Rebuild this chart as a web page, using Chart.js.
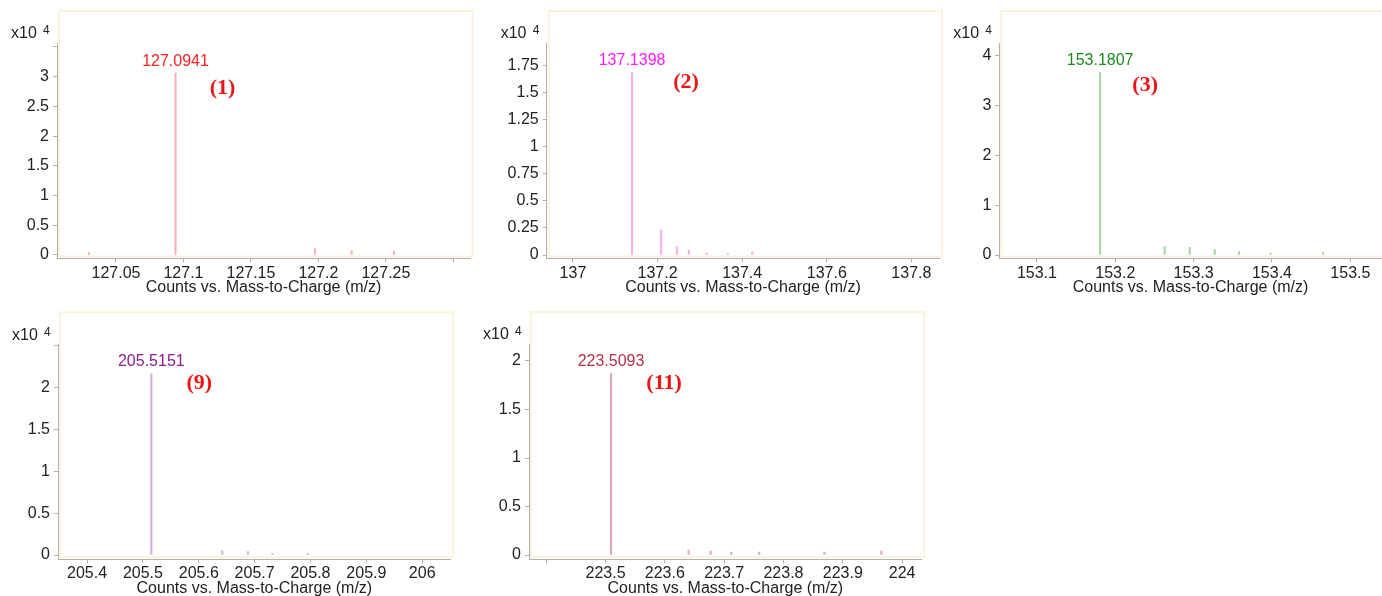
<!DOCTYPE html>
<html>
<head>
<meta charset="utf-8">
<script src="https://cdn.jsdelivr.net/npm/chart.js@4.4.1/dist/chart.umd.min.js"></script>
<style>
  html, body { margin: 0; padding: 0; width: 1382px; height: 596px; overflow: hidden; background: #fff; }
  canvas { position: absolute; }
</style>
</head>
<body>
<canvas id="p1" width="480" height="300" style="left:0px;top:0px"></canvas>
<canvas id="p2" width="465" height="300" style="left:480px;top:0px"></canvas>
<canvas id="p3" width="437" height="300" style="left:945px;top:0px"></canvas>
<canvas id="p4" width="470" height="310" style="left:0px;top:300px"></canvas>
<canvas id="p5" width="460" height="310" style="left:470px;top:300px"></canvas>
<script>
// Intensities are in units of 10^4 counts.

// Compound (1)
const mz1 = [127.0300, 127.0941, 127.1975, 127.2246, 127.2560];
const counts1 = [0.04, 3.06, 0.11, 0.07, 0.06];
const xTicks1 = [127.05, 127.1, 127.15, 127.2, 127.25, 127.3];
const xLabels1 = ['127.05', '127.1', '127.15', '127.2', '127.25', ''];
const yTicks1 = [0, 0.5, 1, 1.5, 2, 2.5, 3, 3.5];
const yLabels1 = ['0', '0.5', '1', '1.5', '2', '2.5', '3', ''];

// Compound (2)
const mz2 = [137.1398, 137.2085, 137.2460, 137.2740, 137.3160, 137.3660, 137.4240];
const counts2 = [1.685, 0.231, 0.077, 0.046, 0.02, 0.015, 0.03];
const xTicks2 = [137, 137.2, 137.4, 137.6, 137.8];
const xLabels2 = ['137', '137.2', '137.4', '137.6', '137.8'];
const yTicks2 = [0, 0.25, 0.5, 0.75, 1, 1.25, 1.5, 1.75];
const yLabels2 = ['0', '0.25', '0.5', '0.75', '1', '1.25', '1.5', '1.75'];

// Compound (3)
const mz3 = [153.1807, 153.2630, 153.2950, 153.3270, 153.3580, 153.3980, 153.4650];
const counts3 = [3.66, 0.167, 0.155, 0.11, 0.07, 0.04, 0.05];
const xTicks3 = [153.1, 153.2, 153.3, 153.4, 153.5];
const xLabels3 = ['153.1', '153.2', '153.3', '153.4', '153.5'];
const yTicks3 = [0, 1, 2, 3, 4];
const yLabels3 = ['0', '1', '2', '3', '4'];

// Compound (9)
const mz9 = [205.5151, 205.6420, 205.6880, 205.7320, 205.7950];
const counts9 = [2.168, 0.05, 0.04, 0.02, 0.02];
const xTicks9 = [205.4, 205.5, 205.6, 205.7, 205.8, 205.9, 206];
const xLabels9 = ['205.4', '205.5', '205.6', '205.7', '205.8', '205.9', '206'];
const yTicks9 = [0, 0.5, 1, 1.5, 2, 2.5];
const yLabels9 = ['0', '0.5', '1', '1.5', '2', ''];

// Compound (11)
const mz11 = [223.5093, 223.6400, 223.6770, 223.7120, 223.7590, 223.8690, 223.9650];
const counts11 = [1.873, 0.05, 0.04, 0.03, 0.03, 0.03, 0.04];
const xTicks11 = [223.4, 223.5, 223.6, 223.7, 223.8, 223.9, 224];
const xLabels11 = ['', '223.5', '223.6', '223.7', '223.8', '223.9', '224'];
const yTicks11 = [0, 0.5, 1, 1.5, 2];
const yLabels11 = ['0', '0.5', '1', '1.5', '2'];

const SANS = '"Liberation Sans", Arial, sans-serif';
const SERIF = '"Liberation Serif", "Times New Roman", serif';
const INK = '#222222';
const AXIS = '#b0b0b0';

const panels = [
  { id: 'p1', tag: '(1)', mz: mz1, counts: counts1, xTicks: xTicks1, xLabels: xLabels1, yTicks: yTicks1, yLabels: yLabels1,
    xMin: 127.0063, xMax: 127.3123, yMin: -0.059, yMax: 3.567,
    line: '#f7b2ba', label: '#ff2222', tagDx: 47, tagDy: 15,
    padTop: 43, padRight: 10, yW: 57, xH: 41.5, titlePad: 2.4 },
  { id: 'p2', tag: '(2)', mz: mz2, counts: counts2, xTicks: xTicks2, xLabels: xLabels2, yTicks: yTicks2, yLabels: yLabels2,
    xMin: 136.938, xMax: 137.866, yMin: -0.032, yMax: 1.959,
    line: '#f6b0ee', label: '#ff1cff', tagDx: 54, tagDy: 10,
    padTop: 43, padRight: 5.7, yW: 66.7, xH: 41.5, titlePad: 2.4 },
  { id: 'p3', tag: '(3)', mz: mz3, counts: counts3, xTicks: xTicks3, xLabels: xLabels3, yTicks: yTicks3, yLabels: yLabels3,
    xMin: 153.052, xMax: 153.540, yMin: -0.070, yMax: 4.255,
    line: '#a9d8a6', label: '#1c8c1c', tagDx: 45, tagDy: 13,
    padTop: 43, padRight: 0.3, yW: 54.3, xH: 41.5, titlePad: 2.4 },
  { id: 'p4', tag: '(9)', mz: mz9, counts: counts9, xTicks: xTicks9, xLabels: xLabels9, yTicks: yTicks9, yLabels: yLabels9,
    xMin: 205.348, xMax: 206.051, yMin: -0.051, yMax: 2.52,
    line: '#d6b0e0', label: '#8e1c8e', tagDx: 48, tagDy: 10,
    padTop: 44.3, padRight: 19.3, yW: 58, xH: 50.7, titlePad: 12.1 },
  { id: 'p5', tag: '(11)', mz: mz11, counts: counts11, xTicks: xTicks11, xLabels: xLabels11, yTicks: yTicks11, yLabels: yLabels11,
    xMin: 223.371, xMax: 224.033, yMin: -0.044, yMax: 2.175,
    line: '#e2a9b6', label: '#b2304c', tagDx: 53, tagDy: 10,
    padTop: 44, padRight: 8.3, yW: 59, xH: 50.7, titlePad: 12.1 }
];

// Frame around the plot, exponent label, base-peak m/z and compound tag.
const decor = {
  id: 'decor',
  beforeDraw(chart, args, o) {
    const { ctx, chartArea: a } = chart;
    ctx.save();
    ctx.strokeStyle = '#fcf2da';
    ctx.lineWidth = 2;
    ctx.strokeRect(a.left + 2, a.top - 32, a.right - a.left + 0.5, a.bottom - a.top + 30);
    ctx.restore();
  },
  afterDraw(chart, args, o) {
    const { ctx, chartArea: a } = chart;
    const xs = chart.scales.x, ys = chart.scales.y;
    ctx.save();
    ctx.fillStyle = INK;
    ctx.textAlign = 'left';
    ctx.textBaseline = 'middle';
    ctx.font = '16px ' + SANS;
    ctx.fillText('x10', a.left - 46, a.top - 9);
    ctx.font = '12px ' + SANS;
    ctx.fillText('4', a.left - 14, a.top - 12);

    const i = o.counts.indexOf(Math.max(...o.counts));
    const px = xs.getPixelForValue(o.mz[i]);
    const py = ys.getPixelForValue(o.counts[i]);
    ctx.textAlign = 'center';
    ctx.fillStyle = o.label;
    ctx.font = '16px ' + SANS;
    ctx.fillText(o.mz[i].toFixed(4), px, py - 12);

    ctx.fillStyle = '#ee1414';
    ctx.font = 'bold 22px ' + SERIF;
    ctx.fillText(o.tag, px + o.tagDx, py + o.tagDy);
    ctx.restore();
  }
};

function setTicks(values) {
  return scale => { scale.ticks = values.map(v => ({ value: v })); };
}

panels.forEach(p => {
  const ctx = document.getElementById(p.id).getContext('2d');
  new Chart(ctx, {
    type: 'bar',
    data: {
      datasets: [{
        data: p.mz.map((m, k) => ({ x: m, y: p.counts[k] })),
        backgroundColor: p.line,
        borderWidth: 0,
        barThickness: 1.5
      }]
    },
    options: {
      responsive: false,
      animation: false,
      devicePixelRatio: 1,
      layout: { padding: { top: p.padTop, right: p.padRight, left: 0, bottom: 0 } },
      plugins: {
        legend: { display: false },
        tooltip: { enabled: false },
        decor: { counts: p.counts, mz: p.mz, label: p.label, tag: p.tag, tagDx: p.tagDx, tagDy: p.tagDy }
      },
      scales: {
        x: {
          type: 'linear',
          min: p.xMin, max: p.xMax,
          offset: false,
          afterBuildTicks: setTicks(p.xTicks),
          afterFit: s => { s.height = p.xH; },
          grid: { drawOnChartArea: false, drawTicks: true, tickLength: 4, color: AXIS, offset: false },
          border: { display: true, color: AXIS, width: 1 },
          ticks: {
            autoSkip: false, maxRotation: 0, minRotation: 0, padding: 1,
            color: INK, font: { family: SANS, size: 16 },
            callback: (v, k) => p.xLabels[k]
          },
          title: {
            display: true, text: 'Counts vs. Mass-to-Charge (m/z)',
            color: INK, font: { family: SANS, size: 16 },
            padding: { top: 0, bottom: p.titlePad }
          }
        },
        y: {
          type: 'linear',
          min: p.yMin, max: p.yMax,
          afterBuildTicks: setTicks(p.yTicks),
          afterFit: s => { s.width = p.yW; },
          grid: { drawOnChartArea: false, drawTicks: true, tickLength: 4, color: AXIS },
          border: { display: true, color: AXIS, width: 1 },
          ticks: {
            autoSkip: false, padding: 4,
            color: INK, font: { family: SANS, size: 16 },
            callback: (v, k) => p.yLabels[k]
          }
        }
      }
    },
    plugins: [decor]
  });
});
</script>
</body>
</html>
